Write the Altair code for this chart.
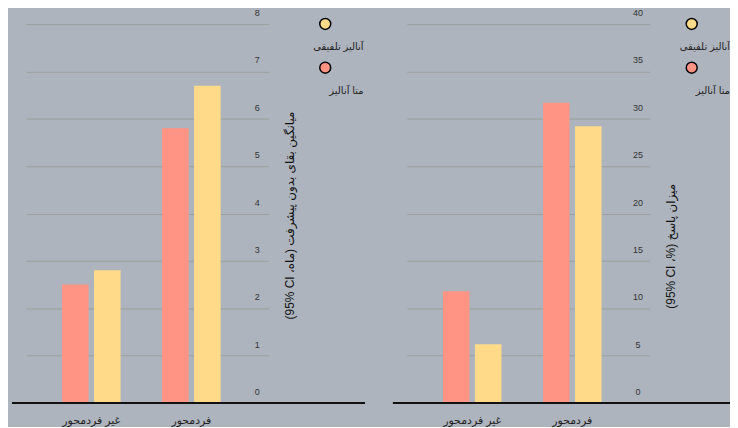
import altair as alt
import pandas as pd

# ---------------- data ----------------
categories = ["غیر فردمحور", "فردمحور"]
series = ["متا آنالیز", "آنالیز تلفیقی"]          # bar order (left, right)
legend_order = ["آنالیز تلفیقی", "متا آنالیز"]    # legend order (top, bottom)

pfs_meta = [2.5, 5.8]
pfs_pooled = [2.8, 6.7]
orr_meta = [11.8, 31.7]
orr_pooled = [6.2, 29.2]

pfs_ticks = [0, 1, 2, 3, 4, 5, 6, 7, 8]
orr_ticks = [0, 5, 10, 15, 20, 25, 30, 35, 40]

RLE, LRE, PDF = "\u202b", "\u202a", "\u202c"
pfs_title = RLE + "میانگین بقای بدون پیشرفت (ماه، " + LRE + "95% CI" + PDF + ")" + PDF
orr_title = RLE + "میزان پاسخ (%، " + LRE + "95% CI" + PDF + ")" + PDF

SALMON = "#ff9485"
YELLOW = "#ffdb89"
BG = "#adb4be"
GRID = "#9c9f9a"
FONT = "Liberation Sans, DejaVu Sans, sans-serif"

W, H = 244, 381

# circle symbol drawn above the entry centre so the label sits under it
c = -4.3
k = 0.5523
SYM = (f"M 0 {c-1} C {k} {c-1} 1 {c-k} 1 {c} C 1 {c+k} {k} {c+1} 0 {c+1} "
       f"C {-k} {c+1} -1 {c+k} -1 {c} C -1 {c-k} {-k} {c-1} 0 {c-1} Z")


def make_df(meta, pooled):
    rows = []
    for i, cat in enumerate(categories):
        rows.append({"cat": cat, "series": series[0], "value": meta[i]})
        rows.append({"cat": cat, "series": series[1], "value": pooled[i]})
    return pd.DataFrame(rows)


def panel(df, title, domain, ticks, title_y, legend_x):
    bars = alt.Chart(df).mark_bar().encode(
        x=alt.X(
            "cat:N", sort=categories, title=None,
            scale=alt.Scale(paddingInner=0.415, paddingOuter=0.42, align=0.43),
            axis=alt.Axis(domain=False, ticks=False, labelAngle=0, labelPadding=12,
                          labelFontSize=11, labelColor="#222", labelFont=FONT, grid=False),
        ),
        xOffset=alt.XOffset("series:N", sort=series, scale=alt.Scale(paddingInner=0.17, paddingOuter=0)),
        y=alt.Y(
            "value:Q",
            scale=alt.Scale(domain=domain, nice=False),
            axis=alt.Axis(
                orient="right", values=ticks, title=title, grid=True, gridColor=GRID, gridWidth=1,
                domain=False, ticks=False, labelPadding=-12, labelAlign="center",
                labelBaseline="alphabetic", labelOffset=-8.5, labelFontSize=9, labelColor="#333",
                labelFont=FONT, titleAngle=270, titleX=21, titleY=title_y, titleAlign="center",
                titleBaseline="middle", titleFontSize=12, titleFontWeight="normal",
                titleColor="#111", titleFont=FONT,
            ),
        ),
        color=alt.Color(
            "series:N",
            scale=alt.Scale(domain=legend_order, range=[YELLOW, SALMON]),
            legend=alt.Legend(
                title=None, orient="none", legendX=legend_x, legendY=17, direction="vertical",
                symbolType=SYM, symbolSize=121, symbolStrokeColor="black", symbolStrokeWidth=1.5,
                symbolOpacity=1, labelAlign="right", labelOffset=32, labelBaseline="middle",
                labelFontSize=10, labelColor="#222", labelFont=FONT, rowPadding=6,
            ),
        ),
    )
    rule = alt.Chart(pd.DataFrame({"a": [0]})).mark_rule(color="#111", strokeWidth=2).encode(
        y=alt.datum(0), x=alt.value(-14), x2=alt.value(W + 97)
    )
    return alt.layer(bars, rule).properties(width=W, height=H)


left = panel(make_df(pfs_meta, pfs_pooled), pfs_title, [0, 8], pfs_ticks, 192, 294.5)
right = panel(make_df(orr_meta, orr_pooled), orr_title, [0, 40], orr_ticks, 223, 280)

chart = (
    alt.hconcat(left, right, spacing=26)
    .resolve_scale(color="independent", y="independent", x="independent")
    .properties(background=BG, padding={"left": 3, "top": -1, "right": -17, "bottom": 0})
    .configure_view(stroke=None)
)

chart.save("out.html", embed_options={"renderer": "svg", "actions": False})
